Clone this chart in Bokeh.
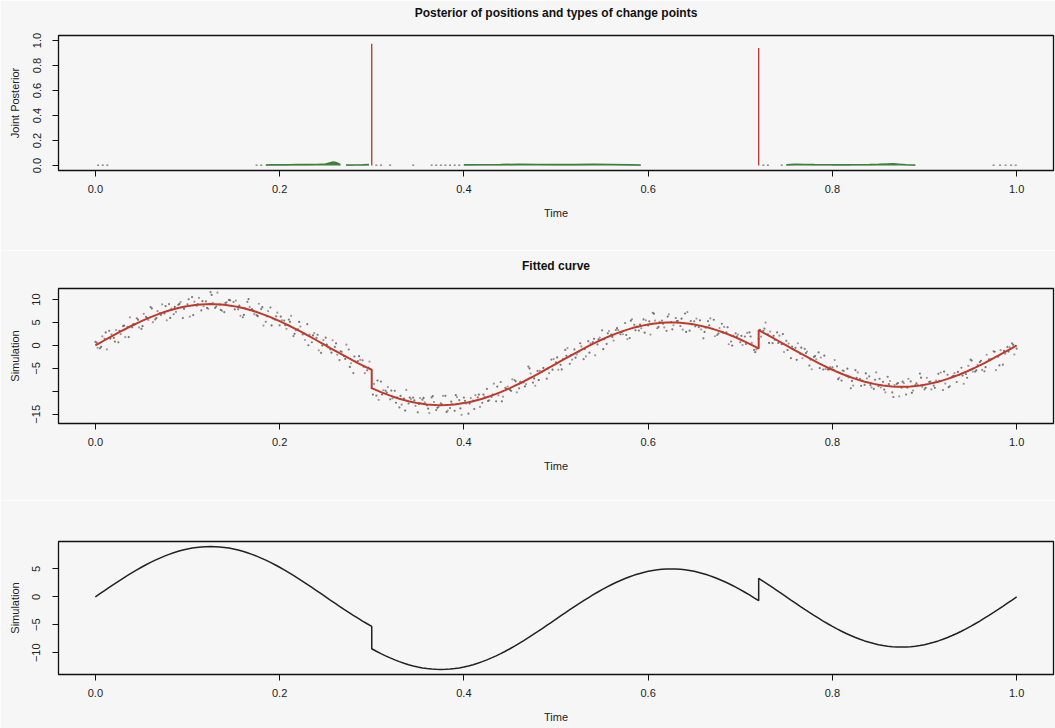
import numpy as np
from bokeh.plotting import figure
from bokeh.layouts import column
from bokeh.models import FixedTicker, Range1d
from bokeh.embed import file_html
from bokeh.resources import INLINE

# ---------------- data ----------------
x_ticks = [0.0, 0.2, 0.4, 0.6, 0.8, 1.0]
x_tick_labels = ["0.0", "0.2", "0.4", "0.6", "0.8", "1.0"]
post_y_ticks = [0.0, 0.2, 0.4, 0.6, 0.8, 1.0]
post_y_labels = ["0.0", "0.2", "0.4", "0.6", "0.8", "1.0"]
fit_y_ticks = [-15, -10, -5, 0, 5, 10]
fit_y_labels = ["\u221215", "", "\u22125", "0", "5", "10"]
sim_y_ticks = [-10, -5, 0, 5]
sim_y_labels = ["\u221210", "\u22125", "0", "5"]

# posterior: spikes (discontinuity type)
spike_times = [0.300, 0.720]
spike_probs = [0.975, 0.94]
# posterior: smooth-change type (green), several stretches
green_times = [
    [0.185, 0.19, 0.20, 0.21, 0.22, 0.23, 0.24, 0.25, 0.255, 0.258, 0.26, 0.263, 0.266],
    [0.272, 0.28, 0.29, 0.297],
    [0.40, 0.42, 0.44, 0.46, 0.48, 0.50, 0.52, 0.54, 0.56, 0.58, 0.592],
    [0.75, 0.76, 0.77, 0.78, 0.80, 0.82, 0.84, 0.85, 0.86, 0.866, 0.872, 0.88, 0.89],
]
green_probs = [
    [0.004, 0.006, 0.007, 0.007, 0.008, 0.008, 0.009, 0.012, 0.022, 0.028, 0.027, 0.018, 0.006],
    [0.005, 0.005, 0.006, 0.008],
    [0.006, 0.007, 0.008, 0.010, 0.009, 0.008, 0.008, 0.010, 0.009, 0.006, 0.004],
    [0.006, 0.010, 0.009, 0.008, 0.007, 0.007, 0.008, 0.010, 0.013, 0.014, 0.011, 0.007, 0.004],
]
# posterior: tiny other-type marks
other_times = [0.003, 0.008, 0.013, 0.175, 0.18, 0.305, 0.31, 0.32, 0.345, 0.365, 0.37, 0.375,
               0.38, 0.385, 0.39, 0.395, 0.725, 0.73, 0.745, 0.975, 0.982, 0.988, 0.994, 0.999]
other_probs = [0.003] * len(other_times)

time_grid = np.round(np.arange(201) * 0.005, 3)

signal = [
    0.00, 0.57, 1.13, 1.69, 2.24, 2.78, 3.31, 3.83, 4.34, 4.82, 5.29, 5.74, 6.16, 6.56, 6.93, 7.28,
    7.60, 7.89, 8.14, 8.37, 8.56, 8.72, 8.84, 8.93, 8.98, 9.00,
    8.98, 8.93, 8.84, 8.72, 8.56, 8.37, 8.14, 7.89, 7.60, 7.28, 6.93, 6.56, 6.16, 5.74, 5.29, 4.82,
    4.34, 3.83, 3.31, 2.78, 2.24, 1.69, 1.13, 0.57, 0.00,
    -0.57, -1.13, -1.69, -2.24, -2.78, -3.31, -3.83, -4.34, -4.82,
    -9.29, -9.74, -10.16, -10.56, -10.93, -11.28, -11.60, -11.89, -12.14, -12.37, -12.56, -12.72,
    -12.84, -12.93, -12.98, -13.00,
    -12.98, -12.93, -12.84, -12.72, -12.56, -12.37, -12.14, -11.89, -11.60, -11.28, -10.93, -10.56,
    -10.16, -9.74, -9.29, -8.82, -8.34, -7.83, -7.31, -6.78, -6.24, -5.69, -5.13, -4.57, -4.00,
    -3.43, -2.87, -2.31, -1.76, -1.22, -0.69, -0.17, 0.34, 0.82, 1.29, 1.74, 2.16, 2.56, 2.93, 3.28,
    3.60, 3.89, 4.14, 4.37, 4.56, 4.72, 4.84, 4.93, 4.98, 5.00,
    4.98, 4.93, 4.84, 4.72, 4.56, 4.37, 4.14, 3.89, 3.60, 3.28, 2.93, 2.56, 2.16, 1.74, 1.29, 0.82,
    0.34, -0.17,
    3.31, 2.78, 2.24, 1.69, 1.13, 0.57, 0.00,
    -0.57, -1.13, -1.69, -2.24, -2.78, -3.31, -3.83, -4.34, -4.82, -5.29, -5.74, -6.16, -6.56, -6.93,
    -7.28, -7.60, -7.89, -8.14, -8.37, -8.56, -8.72, -8.84, -8.93, -8.98, -9.00,
    -8.98, -8.93, -8.84, -8.72, -8.56, -8.37, -8.14, -7.89, -7.60, -7.28, -6.93, -6.56, -6.16, -5.74,
    -5.29, -4.82, -4.34, -3.83, -3.31, -2.78, -2.24, -1.69, -1.13, -0.57, 0.00,
]
jump_times = [0.30, 0.72]
jump_pre_values = [-5.29, -0.69]

resid_a = [
    0.8, -1.2, 0.3, 1.5, -0.6, -2.1, 0.9, 0.2, -0.4, 1.1,
    -1.7, 0.5, 2.2, -0.9, 0.1, -0.3, 1.4, -1.1, 0.7, -2.4,
    0.4, 1.8, -0.2, -1.3, 0.6, 2.6, -0.8, 0.0, -1.6, 1.2,
    0.9, -0.5, -2.0, 1.6, 0.3, -0.7, 1.0, -1.4, 2.1, -0.1,
    -0.9, 0.6, 1.3, -1.8, 0.2, -0.4, 2.4, -1.0, 0.5, -2.2,
    1.7, -0.3, 0.8, -1.5, -0.1, 1.9, -2.7, 0.4, 1.1, -0.6,
    0.0, -1.2, 2.3, 0.7, -0.8, 1.4, -1.9, 0.3, -0.5, 1.0,
    -2.0, 0.9, -0.2, 1.6, -1.1, 0.4, 2.0, -0.7, -1.4, 0.8,
    1.2, -2.5, 0.1, 0.6, -0.9, 1.8, -0.3, -1.6, 2.2, 0.5,
    -0.4, 1.3, -1.0, -0.2, 2.7, -1.3, 0.7, 0.0, -2.1, 1.5,
    0.3, -0.8, 1.9, -1.7, 0.9, -0.1, -2.3, 1.1, 0.4, -0.6,
    2.0, -1.4, 0.2, 0.8, -0.5, 1.6, -2.0, 0.6, -0.9, 1.3,
    -0.2, 2.4, -1.1, 0.5, -1.8, 0.1, 1.0, -0.7, 2.1, -1.5,
    0.7, -0.4, -2.6, 1.4, 0.0, -1.0, 1.8, 0.3, -1.3, 0.9,
    -0.6, 1.1, 2.5, -0.8, -1.9, 0.4, 0.2, -1.2, 1.7, -0.3,
    1.0, -2.2, 0.6, -0.1, 1.5, -1.6, 0.8, 2.3, -0.9, -0.4,
    0.5, 1.2, -1.5, 0.0, -2.4, 1.9, 0.3, -0.7, 1.4, -1.1,
    -0.3, 0.8, 2.0, -1.3, 0.6, -0.2, -1.7, 1.1, 0.2, 2.6,
    -1.0, 0.4, -0.6, 1.7, -2.1, 0.9, 0.1, -1.4, 1.3, -0.5,
    2.2, -0.9, 0.7, -1.8, 0.3, 1.5, -0.2, -2.5, 0.8, 1.0,
    -0.7,
]
resid_b = [
    -0.5, 1.4, -2.0, 0.7, 1.1, -0.3, -1.5, 2.3, 0.2, -0.9,
    1.6, -0.2, -1.1, 0.9, 2.0, -1.8, 0.4, -0.6, 1.3, 0.1,
    -2.3, 0.8, 1.5, -0.4, -1.0, 0.3, 2.5, -1.4, 0.6, -0.1,
    1.2, -1.9, 0.0, 0.5, -0.8, 1.8, -2.6, 0.9, -0.3, 1.4,
    0.2, -1.2, 2.1, -0.5, 0.8, -1.6, 0.1, 1.0, -2.2, 0.6,
    -0.4, 1.7, -0.9, 0.3, 2.4, -1.1, -0.2, 0.7, -1.7, 1.3,
    0.9, -2.1, 0.4, 1.5, -0.6, 0.0, -1.3, 2.2, 0.5, -0.8,
    1.1, 0.3, -1.9, 0.6, -0.4, 2.0, -1.2, 0.2, 1.6, -2.4,
    -0.1, 0.9, 1.3, -1.5, 0.4, -0.7, 2.6, -0.3, -1.0, 0.8,
    1.9, -1.4, 0.1, -0.6, 1.2, -2.0, 0.7, 0.3, -0.9, 1.6,
    -1.3, 0.5, 2.3, -0.8, -0.2, 1.0, -1.7, 0.6, -2.5, 0.9,
    0.0, 1.4, -1.1, 0.8, -0.5, -1.9, 2.1, 0.2, -0.4, 1.1,
    -2.2, 0.7, 0.3, -1.0, 1.8, -0.6, 0.4, -1.5, 2.4, -0.1,
    1.3, -0.9, -0.3, 2.0, -1.6, 0.5, 1.1, -2.3, 0.0, 0.6,
    -1.2, 1.9, 0.2, -0.7, -1.4, 2.2, 0.8, -0.5, 1.0, -2.0,
    0.4, -0.2, 1.6, -1.1, 0.9, -2.4, 0.3, 1.2, -0.8, 0.1,
    2.1, -1.3, 0.6, -0.4, -1.8, 1.4, 0.0, 0.7, -1.0, 2.5,
    -0.6, -1.5, 1.1, 0.3, -2.1, 0.8, 1.7, -0.9, 0.2, -0.3,
    1.5, -1.2, 0.5, 2.0, -0.7, -1.6, 0.9, 0.1, -2.2, 1.3,
    -0.4, 0.6, -1.0, 1.8, 0.4, -2.6, 1.2, -0.1, 0.7, -1.4,
]
resid_c = [
    0.6, -0.9, 1.7, -0.2, -1.4, 0.4, 1.0, -2.0, 0.3, 0.8,
    -1.1, 0.2, 1.9, -0.6, -0.3, 1.3, -1.6, 0.5, 0.9, -0.4,
    1.5, -2.1, 0.1, 0.7, -0.8, 2.0, -0.5, -1.2, 0.4, 1.1,
    -0.7, 0.3, -1.5, 2.2, 0.0, -0.9, 1.4, -0.2, -1.8, 0.6,
    1.0, -0.4, 0.8, -1.3, 1.8, -0.1, -2.2, 0.5, 1.2, -0.6,
    0.2, -1.0, 1.6, 0.4, -0.7, -1.9, 0.9, 1.5, -0.3, 0.0,
    -1.4, 2.1, -0.5, 0.3, 1.1, -1.2, 0.6, -2.3, 0.8, 0.4,
    -0.2, 1.3, -0.9, 1.9, -0.6, 0.1, -1.5, 0.7, 2.0, -1.0,
    0.5, -0.3, -1.7, 1.2, 0.9, -0.8, 0.2, 1.6, -2.0, 0.3,
    -0.6, 1.0, 0.4, -1.1, 2.3, -0.4, -1.3, 0.8, 0.1, -0.7,
    1.4, -1.8, 0.6, 0.2, -0.9, 1.7, -0.1, -1.4, 1.1, 0.5,
    -2.1, 0.9, -0.3, 1.2, 0.0, -1.0, 1.8, -0.6, 0.4, -1.6,
    0.7, 2.2, -0.8, -0.2, 1.3, -1.5, 0.3, 0.9, -1.9, 0.6,
    -0.4, 1.1, -1.2, 0.5, 2.0, -0.7, -0.1, 1.4, -2.2, 0.2,
    0.8, -0.5, 1.6, -1.3, 0.1, 0.9, -1.7, 0.4, -0.6, 1.9,
    -1.0, 0.3, -2.0, 1.2, 0.6, -0.3, 1.0, -1.1, 2.1, -0.4,
    0.0, -1.6, 0.7, 1.5, -0.8, 0.2, -1.2, 1.8, -0.5, 0.9,
    1.3, -0.9, 0.4, -2.3, 0.8, 1.1, -0.2, -1.4, 0.6, 1.7,
    -0.7, 0.5, -1.1, 0.2, 1.9, -1.8, 0.3, 0.8, -0.4, -1.3,
    2.0, -0.6, 1.0, -0.9, 0.1, 1.4, -2.1, 0.5, -0.2, 0.7,
]

# ---------------- styling helpers ----------------
BG = "#f6f6f6"
FONT = "Liberation Sans"


def with_jumps(t, y):
    xs, ys = [], []
    for ti, yi in zip(t, y):
        for jt, jv in zip(jump_times, jump_pre_values):
            if abs(ti - jt) < 1e-9:
                xs.append(jt)
                ys.append(jv)
        xs.append(float(ti))
        ys.append(float(yi))
    return xs, ys


def make_fig(height, top, bottom, yr, yticks, ylabels, ylabel, title=None):
    p = figure(width=1055, height=height, x_range=Range1d(-0.04, 1.04), y_range=Range1d(*yr),
               output_backend="svg", toolbar_location=None, title=title,
               min_border_left=58, min_border_right=2, min_border_top=top, min_border_bottom=bottom,
               background_fill_color=BG, border_fill_color=BG)
    p.outline_line_color = "#111111"
    p.outline_line_width = 1.3
    p.grid.visible = False
    if title:
        p.title.text_font = FONT
        p.title.text_font_size = "12px"
        p.title.text_font_style = "bold"
        p.title.align = "center"
        p.title.text_color = "#111111"
        p.title.standoff = 4
        p.title.padding = {"left": 0, "right": 0, "top": 0, "bottom": 14}
    for ax in (p.xaxis[0], p.yaxis[0]):
        ax.major_tick_out = 6
        ax.major_tick_in = 0
        ax.minor_tick_line_color = None
        ax.axis_line_color = "#111111"
        ax.major_tick_line_color = "#111111"
        ax.major_label_text_font = FONT
        ax.major_label_text_font_size = "11px"
        ax.major_label_text_color = "#222222"
        ax.axis_label_text_font = FONT
        ax.axis_label_text_font_size = "11px"
        ax.axis_label_text_font_style = "normal"
        ax.axis_label_text_color = "#222222"
    xa = p.xaxis[0]
    xa.ticker = FixedTicker(ticks=x_ticks)
    xa.major_label_overrides = {t: l for t, l in zip(x_ticks, x_tick_labels)}
    xa.major_label_standoff = 8
    xa.axis_label = "Time"
    xa.axis_label_standoff = 11
    ya = p.yaxis[0]
    ya.ticker = FixedTicker(ticks=yticks)
    ya.major_label_overrides = {t: l for t, l in zip(yticks, ylabels)}
    ya.major_label_orientation = "vertical"
    ya.major_label_standoff = 12
    ya.axis_label = ylabel
    ya.axis_label_standoff = 9
    return p


# ---------------- panel 1: posterior ----------------
p1 = make_fig(250, 35, 80, (-0.04, 1.04), post_y_ticks, post_y_labels, "Joint Posterior",
              title="Posterior of positions and types of change points")
for gt, gp in zip(green_times, green_probs):
    p1.varea(x=gt, y1=[0] * len(gt), y2=gp, fill_color="#3f7f3a")
    p1.line(x=gt, y=gp, line_color="#3f7f3a", line_width=1.5)
p1.scatter(x=other_times, y=other_probs, marker="dash", size=2, line_color="#555555", line_width=1)
p1.segment(x0=spike_times, y0=[0] * len(spike_times), x1=spike_times, y1=spike_probs,
           line_color="#b5342a", line_width=1.3)

# ---------------- panel 2: fitted curve ----------------
p2 = make_fig(250, 38, 77, (-17.0, 12.4), fit_y_ticks, fit_y_labels, "Simulation",
              title="Fitted curve")
sig = np.array(signal)
p2.scatter(x=time_grid, y=sig + np.array(resid_a), size=2.2, fill_color="#6a6a6a",
           line_color=None, fill_alpha=0.85)
p2.scatter(x=time_grid[:200] + 0.0025, y=sig[:200] + np.array(resid_b), size=2.2,
           fill_color="#8a8a8a", line_color=None, fill_alpha=0.85)
p2.scatter(x=time_grid[:200] + 0.00125, y=sig[:200] + np.array(resid_c), size=2.2,
           fill_color="#555555", line_color=None, fill_alpha=0.8)
fx, fy = with_jumps(time_grid, signal)
p2.line(x=fx, y=fy, line_color="#c0392b", line_width=2.0)

# ---------------- panel 3: simulated truth ----------------
p3 = make_fig(228, 41, 54, (-13.9, 9.9), sim_y_ticks, sim_y_labels, "Simulation")
p3.line(x=fx, y=fy, line_color="#222222", line_width=1.5)

layout = column(p1, p2, p3, spacing=0)
open("out.html", "w").write(file_html(layout, INLINE))
